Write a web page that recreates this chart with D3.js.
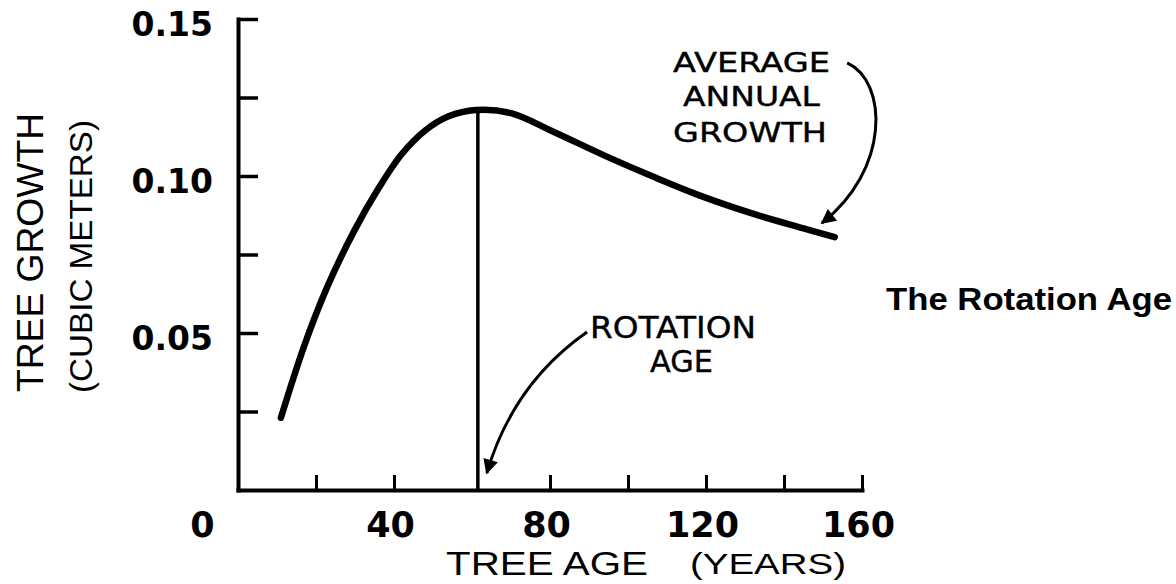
<!DOCTYPE html>
<html>
<head>
<meta charset="utf-8">
<script src="https://cdn.jsdelivr.net/npm/d3@7"></script>
<style>
  body { margin: 0; background: #fff; overflow: hidden; }
  svg { display: block; }
</style>
</head>
<body>
<svg id="chart" width="1176" height="584"></svg>
<script>
// tree age (years) and average annual growth (cubic meters)
var ages   = [11, 17, 23, 30, 36, 42, 48, 54, 61, 70, 81, 94, 107, 119, 132, 145, 153];
var growth = [0.023, 0.046, 0.065, 0.083, 0.096, 0.107, 0.1145, 0.119, 0.121, 0.120, 0.114, 0.1065, 0.0995, 0.0935, 0.088, 0.0833, 0.0805];

var xTicks = [0, 20, 40, 80, 100, 120, 140, 160];
var xLabels = [0, 40, 80, 120, 160];
var yTicks = [0.025, 0.05, 0.075, 0.10, 0.125, 0.15];
var yLabels = [0.05, 0.10, 0.15];

var rotationAge = 61.5;
var rotationPeak = 0.122;

// annotation arrows, in data units [age, growth]
var rotationArrow = [[89.5, 0.0503], [70.5, 0.0338], [63.8, 0.0054]];
var averageArrow  = [[156.2, 0.136], [166.7, 0.130], [167.2, 0.102], [149.7, 0.085]];

var svg = d3.select("#chart");

var x = d3.scaleLinear().domain([0, 160]).range([238, 862]);
var y = d3.scaleLinear().domain([0, 0.15]).range([490, 19]);

var defs = svg.append("defs");
defs.append("marker")
    .attr("id", "head")
    .attr("viewBox", "0 0 10 10")
    .attr("refX", 9).attr("refY", 5)
    .attr("markerWidth", 7).attr("markerHeight", 5)
    .attr("markerUnits", "strokeWidth")
    .attr("orient", "auto")
  .append("path")
    .attr("d", "M0,0 L10,5 L0,10 Z")
    .attr("fill", "#000");

// y axis, ticks pointing inward
var yAxis = d3.axisLeft(y)
    .tickValues(yTicks)
    .tickSizeInner(-20)
    .tickSizeOuter(0)
    .tickPadding(25)
    .tickFormat(function(d) { return yLabels.some(function(v) { return Math.abs(v - d) < 1e-9; }) ? d3.format(".2f")(d) : ""; });

var gy = svg.append("g").attr("transform", "translate(" + x(0) + ",0)").call(yAxis);
gy.select(".domain").attr("stroke-width", 4).attr("stroke-linecap", "square");
gy.selectAll(".tick line").attr("stroke-width", 3.5);
gy.selectAll(".tick text")
    .attr("dy", "0.5em")
    .style("font-family", "'DejaVu Sans', sans-serif")
    .style("font-weight", "bold")
    .style("font-size", "33px")
    .attr("fill", "#000");

// x axis, ticks pointing up
var xAxis = d3.axisBottom(x)
    .tickValues(xTicks)
    .tickSizeInner(-15)
    .tickSizeOuter(0)
    .tickPadding(22)
    .tickFormat(function(d) { return xLabels.indexOf(d) >= 0 ? d : ""; });

var gx = svg.append("g").attr("transform", "translate(0," + y(0) + ")").call(xAxis);
gx.select(".domain").attr("stroke-width", 4).attr("stroke-linecap", "square");
gx.selectAll(".tick line").attr("stroke-width", 3);
gx.selectAll(".tick text")
    .attr("dx", function(d) { return d === 0 ? -36 : -4; })
    .style("font-family", "'DejaVu Sans', sans-serif")
    .style("font-weight", "bold")
    .style("font-size", "35px")
    .attr("fill", "#000");

// growth curve
var line = d3.line()
    .x(function(d, i) { return x(ages[i]); })
    .y(function(d) { return y(d); })
    .curve(d3.curveCatmullRom.alpha(0.5));

svg.append("path")
    .datum(growth)
    .attr("d", line)
    .attr("fill", "none")
    .attr("stroke", "#000")
    .attr("stroke-width", 6.5)
    .attr("stroke-linecap", "round")
    .attr("stroke-linejoin", "round");

// rotation age line
svg.append("line")
    .attr("x1", x(rotationAge)).attr("x2", x(rotationAge))
    .attr("y1", y(0)).attr("y2", y(rotationPeak))
    .attr("stroke", "#000")
    .attr("stroke-width", 3.5);

// arrows
var ra = rotationArrow.map(function(p) { return [x(p[0]), y(p[1])]; });
svg.append("path")
    .attr("d", "M" + ra[0] + " Q" + ra[1] + " " + ra[2])
    .attr("fill", "none")
    .attr("stroke", "#000")
    .attr("stroke-width", 3)
    .attr("marker-end", "url(#head)");

var aa = averageArrow.map(function(p) { return [x(p[0]), y(p[1])]; });
svg.append("path")
    .attr("d", "M" + aa[0] + " C" + aa[1] + " " + aa[2] + " " + aa[3])
    .attr("fill", "none")
    .attr("stroke", "#000")
    .attr("stroke-width", 3)
    .attr("marker-end", "url(#head)");

// text helper
function label(txt, px, py, size, len, opts) {
    opts = opts || {};
    var t = svg.append("text")
        .attr("x", px).attr("y", py)
        .attr("fill", "#000")
        .style("font-family", opts.family || "'DejaVu Sans', sans-serif")
        .style("font-size", size + "px")
        .style("font-weight", opts.weight || "normal")
        .text(txt);
    if (opts.stroke) t.attr("stroke", "#000").attr("stroke-width", opts.stroke);
    if (len) t.attr("textLength", len).attr("lengthAdjust", "spacingAndGlyphs");
    if (opts.rotate) t.attr("transform", "rotate(-90," + px + "," + py + ")");
    return t;
}

label("AVERAGE", 673, 72, 27, 157, { stroke: 0.4 });
label("ANNUAL", 683, 106, 27, 137, { stroke: 0.4 });
label("GROWTH", 673, 142, 27, 154, { stroke: 0.4 });

label("ROTATION", 590, 338, 31, 166, { stroke: 0.4 });
label("AGE", 650, 372, 31, 63, { stroke: 0.4 });

label("The Rotation Age", 886, 310, 31, 286, { family: "'Liberation Sans', Arial, sans-serif", weight: "bold" });

label("TREE AGE", 446, 575, 34, 202, { family: "'Liberation Sans', Arial, sans-serif" });
label("(YEARS)", 690, 574, 30, 156, { family: "'Liberation Sans', Arial, sans-serif" });

label("TREE GROWTH", 43, 392, 37, 279, { family: "'Liberation Sans', Arial, sans-serif", rotate: true });
label("(CUBIC METERS)", 92, 393, 32, 273, { family: "'Liberation Sans', Arial, sans-serif", rotate: true });
</script>
</body>
</html>
